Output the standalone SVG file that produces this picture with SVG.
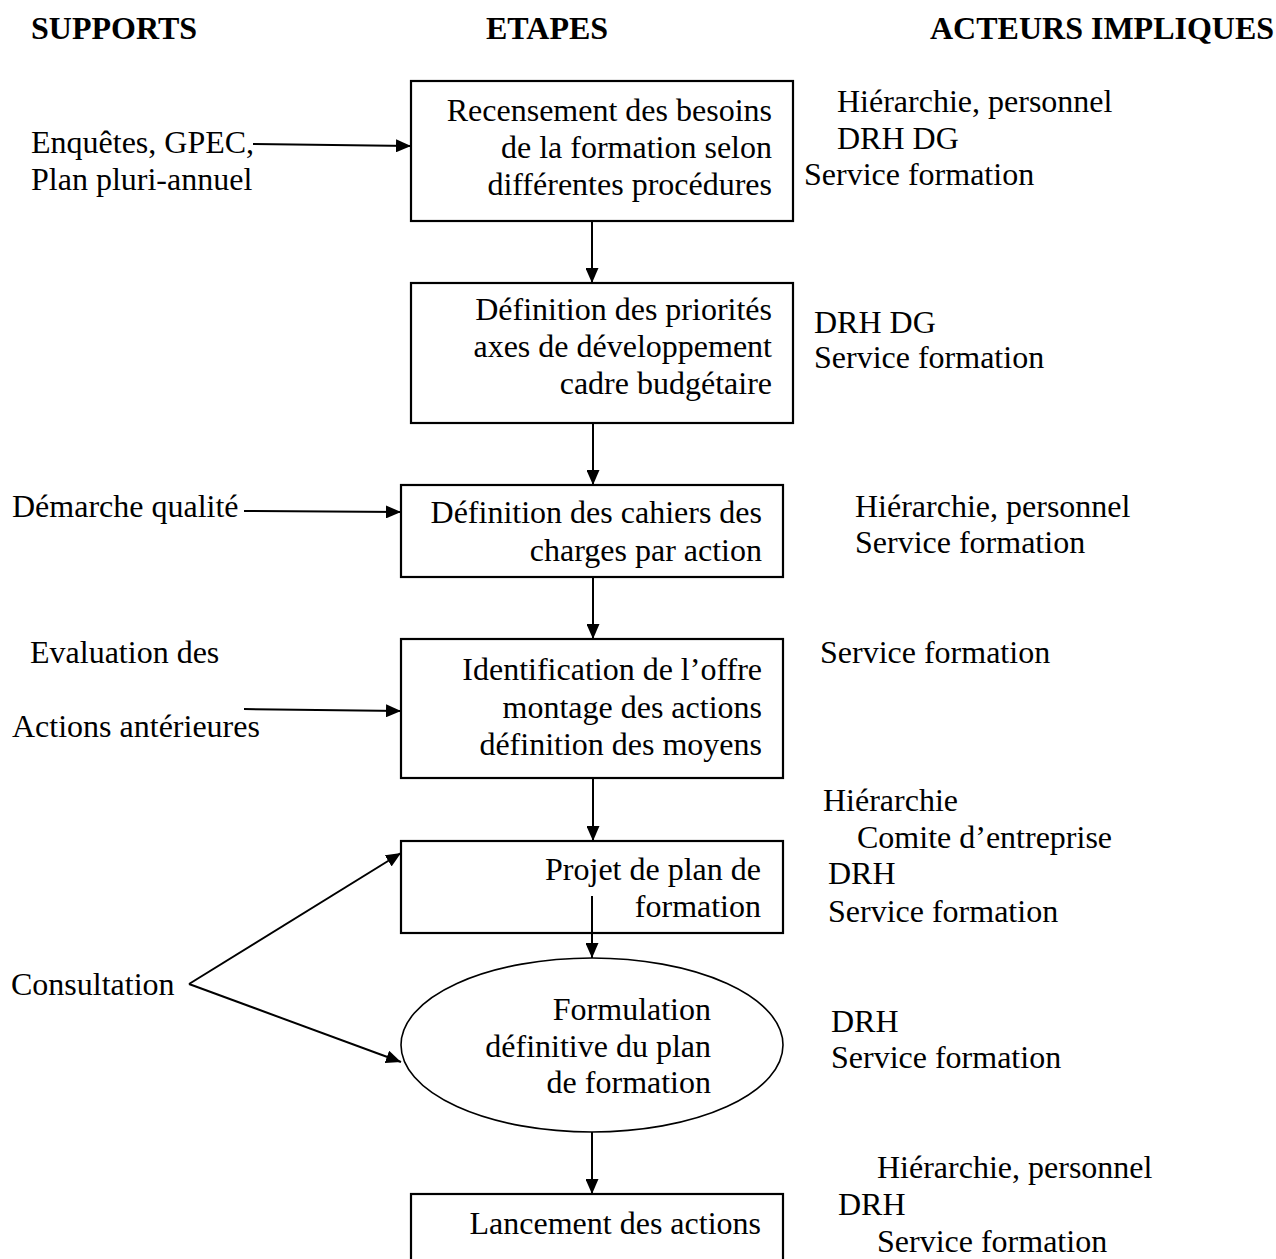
<svg xmlns="http://www.w3.org/2000/svg" width="1276" height="1259" viewBox="0 0 1276 1259">
<style>
text { font-family: "Liberation Serif", "Times New Roman", serif; font-size: 32px; fill: #000; }
.h { font-weight: bold; }
.r { text-anchor: end; }
.box { fill: #fff; stroke: #000; stroke-width: 2.2; }
.ell { fill: #fff; stroke: #000; stroke-width: 1.6; }
.c line { stroke: #000; stroke-width: 2; fill: none; marker-end: url(#ah); }
</style>
<defs>
<marker id="ah" markerUnits="userSpaceOnUse" markerWidth="15" markerHeight="13" refX="15" refY="6.5" orient="auto">
<path d="M0,0 L15,6.5 L0,13 z" fill="#000"/>
</marker>
</defs>
<rect width="1276" height="1259" fill="#fff"/>
<g id="headers">
<text class="h" x="31" y="39">SUPPORTS</text>
<text class="h" x="486" y="39">ETAPES</text>
<text class="h" x="930" y="39">ACTEURS IMPLIQUES</text>
</g>
<g id="step1">
<rect class="box" x="411" y="81" width="382" height="140"/>
<text class="r" x="772" y="121">Recensement des besoins</text>
<text class="r" x="772" y="158">de la formation selon</text>
<text class="r" x="772" y="195">différentes procédures</text>
</g>
<g id="step2">
<rect class="box" x="411" y="283" width="382" height="140"/>
<text class="r" x="772" y="320">Définition des priorités</text>
<text class="r" x="772" y="357">axes de développement</text>
<text class="r" x="772" y="394">cadre budgétaire</text>
</g>
<g id="step3">
<rect class="box" x="401" y="485" width="382" height="92"/>
<text class="r" x="762" y="523">Définition des cahiers des</text>
<text class="r" x="762" y="561">charges par action</text>
</g>
<g id="step4">
<rect class="box" x="401" y="639" width="382" height="139"/>
<text class="r" x="762" y="680">Identification de l’offre</text>
<text class="r" x="762" y="718">montage des actions</text>
<text class="r" x="762" y="755">définition des moyens</text>
</g>
<g id="step5">
<rect class="box" x="401" y="841" width="382" height="92"/>
<text class="r" x="761" y="880">Projet de plan de</text>
<text class="r" x="761" y="917">formation</text>
</g>
<g id="step6">
<ellipse class="ell" cx="592" cy="1045" rx="191" ry="87"/>
<text class="r" x="711" y="1020">Formulation</text>
<text class="r" x="711" y="1057">définitive du plan</text>
<text class="r" x="711" y="1093">de formation</text>
</g>
<g id="step7">
<rect class="box" x="411" y="1194" width="372" height="90"/>
<text class="r" x="761" y="1234">Lancement des actions</text>
</g>
<g id="supports">
<text x="31" y="153">Enquêtes, GPEC,</text>
<text x="31" y="190">Plan pluri-annuel</text>
<text x="12" y="517">Démarche qualité</text>
<text x="30" y="663">Evaluation des</text>
<text x="12" y="737">Actions antérieures</text>
<text x="11" y="995">Consultation</text>
</g>
<g id="acteurs">
<text x="837" y="112">Hiérarchie, personnel</text>
<text x="837" y="149">DRH DG</text>
<text x="804" y="185">Service formation</text>
<text x="814" y="333">DRH DG</text>
<text x="814" y="368">Service formation</text>
<text x="855" y="517">Hiérarchie, personnel</text>
<text x="855" y="553">Service formation</text>
<text x="820" y="663">Service formation</text>
<text x="823" y="811">Hiérarchie</text>
<text x="857" y="848">Comite d’entreprise</text>
<text x="828" y="884">DRH</text>
<text x="828" y="922">Service formation</text>
<text x="831" y="1032">DRH</text>
<text x="831" y="1068">Service formation</text>
<text x="877" y="1178">Hiérarchie, personnel</text>
<text x="838" y="1215">DRH</text>
<text x="877" y="1252">Service formation</text>
</g>
<g id="connectors" class="c">
<line x1="253" y1="144" x2="411" y2="146"/>
<line x1="592" y1="221" x2="592" y2="283"/>
<line x1="593" y1="423" x2="593" y2="485"/>
<line x1="244" y1="511" x2="401" y2="512"/>
<line x1="593" y1="577" x2="593" y2="639"/>
<line x1="244" y1="709" x2="401" y2="711"/>
<line x1="593" y1="778" x2="593" y2="841"/>
<line x1="592" y1="896" x2="592" y2="958"/>
<line x1="189" y1="984" x2="401" y2="853"/>
<line x1="189" y1="984" x2="401" y2="1062"/>
<line x1="592" y1="1132" x2="592" y2="1194"/>
</g>
</svg>
